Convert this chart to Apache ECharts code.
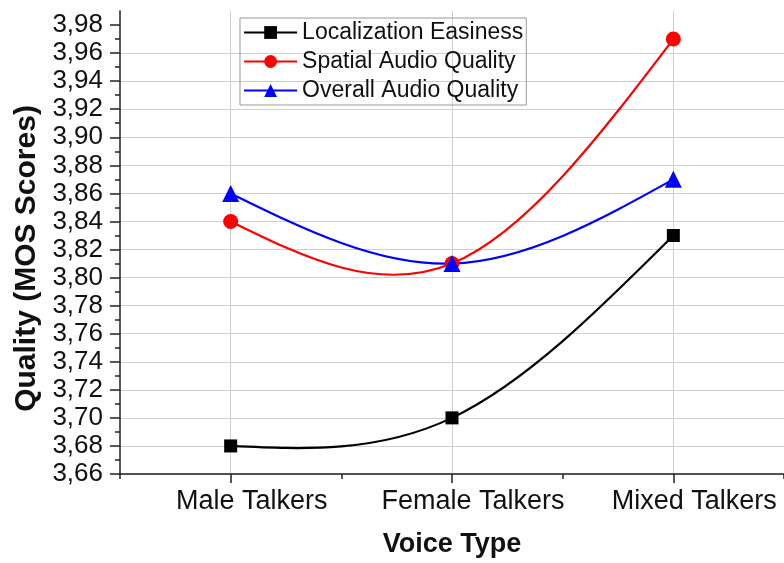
<!DOCTYPE html>
<html>
<head>
<meta charset="utf-8">
<script src="https://cdn.jsdelivr.net/npm/echarts@6/dist/echarts.min.js"></script>
<style>html,body{margin:0;padding:0;background:#fff}#c{width:784px;height:563px}</style>
</head>
<body>
<div id="c"></div>
<script>
const categories = ['Male Talkers', 'Female Talkers', 'Mixed Talkers'];
const localizationEasiness = [3.68, 3.70, 3.83];
const spatialAudioQuality = [3.84, 3.81, 3.97];
const overallAudioQuality = [3.86, 3.81, 3.87];
const yTicks = [3.66, 3.68, 3.70, 3.72, 3.74, 3.76, 3.78, 3.80, 3.82, 3.84, 3.86, 3.88, 3.90, 3.92, 3.94, 3.96, 3.98];
const yMin = 3.66, yMax = 3.99;

const FONT = '"Liberation Sans", Arial, Helvetica, sans-serif';
const chart = echarts.init(document.getElementById('c'), null, {renderer: 'canvas'});

// Natural cubic spline through pixel points (uniform x spacing), drawn as cubic Beziers
function splinePath(pts) {
  const n = pts.length;
  if (n < 2) return '';
  const y = pts.map(p => p[1]);
  const M = new Array(n).fill(0);
  if (n > 2) {
    const a = [], b = [], c = [], d = [];
    for (let i = 1; i < n - 1; i++) {
      a.push(1); b.push(4); c.push(1);
      d.push(6 * (y[i - 1] - 2 * y[i] + y[i + 1]));
    }
    const m = d.length;
    for (let i = 1; i < m; i++) {
      const w = a[i] / b[i - 1];
      b[i] -= w * c[i - 1];
      d[i] -= w * d[i - 1];
    }
    const sol = new Array(m);
    sol[m - 1] = d[m - 1] / b[m - 1];
    for (let i = m - 2; i >= 0; i--) sol[i] = (d[i] - c[i] * sol[i + 1]) / b[i];
    for (let i = 0; i < m; i++) M[i + 1] = sol[i];
  }
  const D = new Array(n);
  for (let i = 0; i < n - 1; i++) {
    D[i] = (y[i + 1] - y[i]) - (2 * M[i] + M[i + 1]) / 6;
  }
  D[n - 1] = (y[n - 1] - y[n - 2]) + (M[n - 2] + 2 * M[n - 1]) / 6;
  let path = 'M' + pts[0][0] + ',' + pts[0][1];
  for (let i = 0; i < n - 1; i++) {
    const x0 = pts[i][0], x1 = pts[i + 1][0];
    const dx = x1 - x0;
    path += ' C' + (x0 + dx / 3) + ',' + (y[i] + D[i] / 3) + ' ' +
      (x1 - dx / 3) + ',' + (y[i + 1] - D[i + 1] / 3) + ' ' + x1 + ',' + y[i + 1];
  }
  return path;
}

function curveSeries(values, color) {
  return {
    type: 'custom', coordinateSystem: 'cartesian2d', silent: true, z: 3,
    data: values.map((v, i) => [i, v]),
    renderItem: function (params, api) {
      if (params.dataIndex !== 0) return null;
      const pts = values.map((v, i) => api.coord([i, v]));
      return {
        type: 'path',
        shape: {pathData: splinePath(pts)},
        style: {fill: null, stroke: color, lineWidth: 2.2}
      };
    }
  };
}

function markSeries(name, data, color, symbol, size) {
  return {
    name: name, type: 'line', data: data,
    symbol: symbol, symbolSize: size, showSymbol: true,
    lineStyle: {color: color, width: 2.2, opacity: 0},
    itemStyle: {color: color},
    z: 5
  };
}

chart.setOption({
  animation: false,
  backgroundColor: '#fff',
  grid: {left: 120, top: 11, bottom: 89, right: -4, containLabel: false},
  legend: {
    orient: 'vertical', left: 240, top: 18,
    padding: [3, 3, 3, 3],
    itemGap: 6, itemWidth: 53, itemHeight: 16,
    borderColor: '#999', borderWidth: 1,
    textStyle: {fontFamily: FONT, fontSize: 23, color: '#111', lineHeight: 22},
    data: [
      {name: 'Localization Easiness', lineStyle: {color: '#000000', width: 2.2, opacity: 1}},
      {name: 'Spatial Audio Quality', lineStyle: {color: '#ff0000', width: 2.2, opacity: 1}},
      {name: 'Overall Audio Quality', lineStyle: {color: '#0000ff', width: 2.2, opacity: 1}}
    ]
  },
  xAxis: [{
    type: 'category', data: categories, boundaryGap: true,
    name: 'Voice Type', nameLocation: 'middle', nameGap: 57,
    nameTextStyle: {fontFamily: FONT, fontSize: 27, fontWeight: 'bold', color: '#111'},
    axisLine: {lineStyle: {color: '#222', width: 1.5}},
    axisTick: {show: true, alignWithLabel: true, length: 9, lineStyle: {color: '#222', width: 1.5}},
    axisLabel: {fontFamily: FONT, fontSize: 27, color: '#111', margin: 14, interval: 0, hideOverlap: false, padding: [0, 0, 0, 42]},
    splitLine: {show: true, alignWithLabel: true, lineStyle: {color: '#cfcfcf', width: 1}}
  }, {
    type: 'category', data: categories, boundaryGap: true, position: 'bottom',
    axisLine: {show: false},
    axisTick: {show: true, length: 5, lineStyle: {color: '#222', width: 1.5}},
    axisLabel: {show: false},
    splitLine: {show: false}
  }],
  yAxis: {
    type: 'value', min: yMin, max: yMax, interval: 0.02,
    name: 'Quality (MOS Scores)', nameLocation: 'middle', nameGap: 76, nameRotate: 90,
    nameTextStyle: {fontFamily: FONT, fontSize: 30, fontWeight: 'bold', color: '#111', padding: [0, 32, 0, 0]},
    axisLine: {show: true, lineStyle: {color: '#222', width: 1.5}},
    axisTick: {show: true, length: 10, customValues: yTicks, lineStyle: {color: '#222', width: 1.5}},
    minorTick: {show: true, splitNumber: 2, length: 5, lineStyle: {color: '#222', width: 1.5}},
    axisLabel: {
      fontFamily: FONT, fontSize: 26, color: '#111', margin: 17,
      customValues: yTicks,
      formatter: v => v.toFixed(2).replace('.', ',')
    },
    splitLine: {show: true, showMaxLine: false, lineStyle: {color: '#cfcfcf', width: 1}}
  },
  series: [
    curveSeries(localizationEasiness, '#000000'),
    curveSeries(spatialAudioQuality, '#ff0000'),
    curveSeries(overallAudioQuality, '#0000ff'),
    markSeries('Localization Easiness', localizationEasiness, '#000000', 'rect', 13),
    markSeries('Spatial Audio Quality', spatialAudioQuality, '#ff0000', 'circle', 15),
    markSeries('Overall Audio Quality', overallAudioQuality, '#0000ff', 'triangle', 17)
  ]
});
</script>
</body>
</html>
